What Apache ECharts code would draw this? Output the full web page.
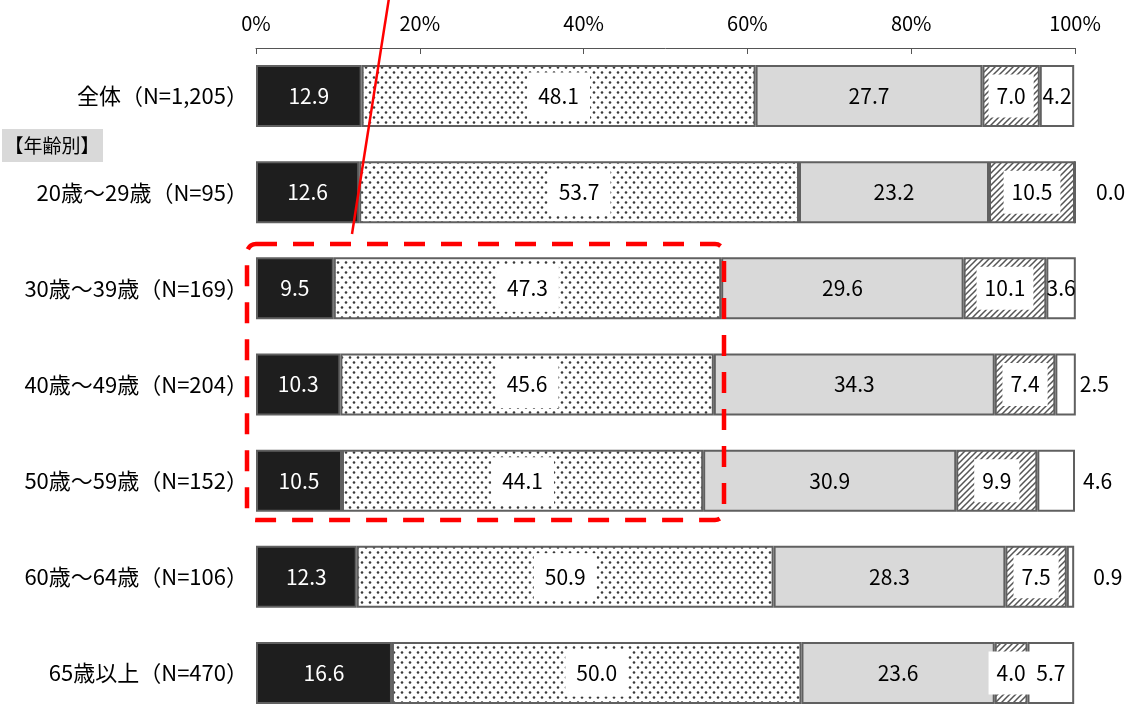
<!DOCTYPE html>
<html lang="ja">
<head>
    <meta charset="UTF-8">
    <title>年齢別</title>
    <script src="https://cdn.jsdelivr.net/npm/echarts@6/dist/echarts.min.js"></script>
    <style>
        html, body { margin: 0; padding: 0; background: #fff; }
        #main { width: 1137px; height: 706px; }
    </style>
</head>
<body>
    <div id="main"></div>
    <script>
        // categories and values (percent)
        var categories = ['全体（N=1,205）', '20歳～29歳（N=95）', '30歳～39歳（N=169）', '40歳～49歳（N=204）',
            '50歳～59歳（N=152）', '60歳～64歳（N=106）', '65歳以上（N=470）'];
        var seg1 = [12.9, 12.6, 9.5, 10.3, 10.5, 12.3, 16.6];
        var seg2 = [48.1, 53.7, 47.3, 45.6, 44.1, 50.9, 50.0];
        var seg3 = [27.7, 23.2, 29.6, 34.3, 30.9, 28.3, 23.6];
        var seg4 = [7.0, 10.5, 10.1, 7.4, 9.9, 7.5, 4.0];
        var seg5 = [4.2, 0.0, 3.6, 2.5, 4.6, 0.9, 5.7];
        var tickValues = [0, 20, 40, 60, 80, 100];

        var FONT = '"Noto Sans CJK JP", "Noto Sans", sans-serif';
        var EDGE = '#606060';

        // dotted fill
        function dotPattern() {
            var c = document.createElement('canvas');
            c.width = 8; c.height = 10;
            var ctx = c.getContext('2d');
            ctx.fillStyle = '#fff';
            ctx.fillRect(0, 0, 8, 10);
            ctx.fillStyle = '#3a3a3a';
            ctx.beginPath(); ctx.arc(2, 2.5, 1.3, 0, Math.PI * 2); ctx.fill();
            ctx.beginPath(); ctx.arc(6, 7.5, 1.3, 0, Math.PI * 2); ctx.fill();
            return c;
        }

        // diagonal hatch "/"
        function hatchPattern() {
            var c = document.createElement('canvas');
            c.width = 6; c.height = 6;
            var ctx = c.getContext('2d');
            ctx.fillStyle = '#fff';
            ctx.fillRect(0, 0, 6, 6);
            ctx.strokeStyle = '#555';
            ctx.lineWidth = 1.5;
            ctx.beginPath();
            ctx.moveTo(-1, 7); ctx.lineTo(7, -1);
            ctx.moveTo(-4, 4); ctx.lineTo(4, -4);
            ctx.moveTo(2, 10); ctx.lineTo(10, 2);
            ctx.stroke();
            return c;
        }

        function fmt(p) { return p.value.toFixed(1); }

        function barSeries(name, values, fill, label) {
            return {
                name: name,
                type: 'bar',
                stack: 'all',
                barWidth: 62,
                data: values,
                itemStyle: { color: fill, borderColor: EDGE, borderWidth: 2 },
                label: Object.assign({
                    show: true,
                    position: 'inside',
                    formatter: fmt,
                    fontSize: 21,
                    fontFamily: FONT,
                    color: '#000'
                }, label),
                emphasis: { disabled: true }
            };
        }

        // last segment: small values get their label outside the bar
        var outsideGap = [null, 20, null, 4, 8, 19, null];
        var seg5Data = seg5.map(function (v, i) {
            if (outsideGap[i] === null) return v;
            return { value: v, label: { position: 'right', distance: outsideGap[i] } };
        });

        var myChart = echarts.init(document.getElementById('main'), null, { renderer: 'canvas' });

        myChart.setOption({
            animation: false,
            textStyle: { fontFamily: FONT },
            // last band runs past the bottom edge, as in the original
            grid: { left: 256, right: 62, top: 48, height: 673, outerBoundsMode: 'none', containLabel: false },
            xAxis: {
                type: 'value',
                position: 'top',
                min: tickValues[0],
                max: tickValues[tickValues.length - 1],
                interval: 20,
                axisLine: { show: true, lineStyle: { color: '#555', width: 1 } },
                axisTick: { show: true, inside: true, length: 6, lineStyle: { color: '#555' } },
                splitLine: { show: false },
                axisLabel: {
                    formatter: '{value}%', fontSize: 20, color: '#000',
                    fontFamily: FONT, margin: 15
                }
            },
            yAxis: {
                type: 'category',
                inverse: true,
                data: categories,
                axisLine: { show: false },
                axisTick: { show: false },
                axisLabel: { fontSize: 22, color: '#000', fontFamily: FONT, margin: 8 }
            },
            series: [
                barSeries('s1', seg1, '#1e1e1e', { color: '#fff' }),
                barSeries('s2', seg2, { image: dotPattern(), repeat: 'repeat' },
                    { backgroundColor: '#fff', padding: [13, 11] }),
                barSeries('s3', seg3, '#d9d9d9', {}),
                barSeries('s4', seg4, { image: hatchPattern(), repeat: 'repeat' },
                    { backgroundColor: '#fff', padding: [11, 8] }),
                barSeries('s5', seg5Data, '#fff', {})
            ],
            graphic: [
                {
                    type: 'rect',
                    shape: { x: 2, y: 129, width: 101, height: 33 },
                    style: { fill: '#d9d9d9' },
                    z: 10
                },
                {
                    type: 'text',
                    x: 52, y: 146,
                    style: {
                        text: '【年齢別】', fontSize: 19, fontFamily: FONT, fill: '#000',
                        align: 'center', verticalAlign: 'middle'
                    },
                    z: 11
                },
                {
                    type: 'rect',
                    shape: { x: 247, y: 244, width: 477, height: 276, r: 9 },
                    style: { fill: null, stroke: '#ff0000', lineWidth: 4.5, lineDash: [21, 16] },
                    z: 20
                },
                {
                    type: 'line',
                    shape: { x1: 389, y1: -2, x2: 352, y2: 234 },
                    style: { stroke: '#ff0000', lineWidth: 2.5 },
                    z: 20
                }
            ]
        });
    </script>
</body>
</html>
